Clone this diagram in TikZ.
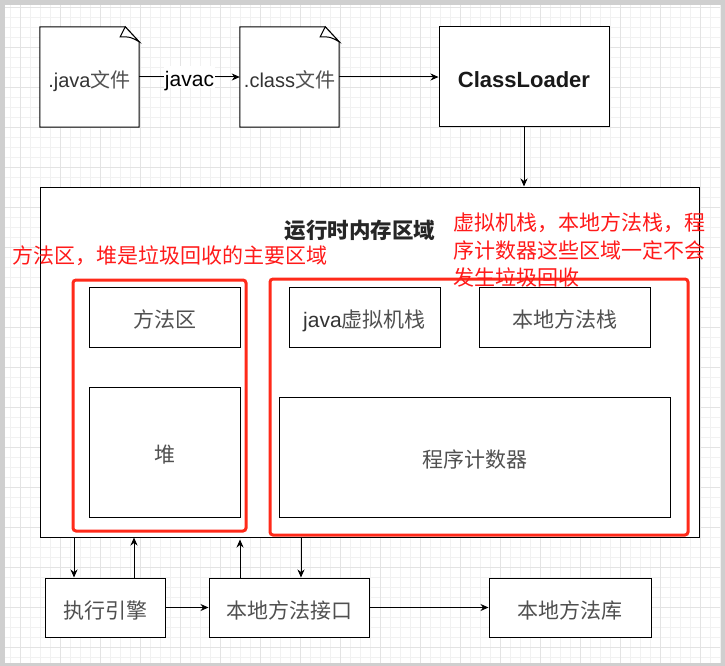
\documentclass[tikz,border=0pt]{standalone}
\usepackage{fontspec}
\setmainfont{Liberation Sans}
\newfontfamily\cjk{Noto Sans CJK SC}
\usetikzlibrary{arrows.meta,calc}
\definecolor{redc}{HTML}{FF2A1A}
\definecolor{redt}{HTML}{FF1A1A}
\definecolor{txt}{HTML}{333333}
\definecolor{cjkt}{HTML}{505050}
\definecolor{gridminor}{HTML}{F1F1F1}
\definecolor{gridmajor}{HTML}{E3E3E3}
\newcommand{\zh}[1]{{\cjk\color{cjkt}#1}}
\begin{document}
\begin{tikzpicture}[x=1pt,y=-1pt,
  box/.style={draw=black,line width=1pt,fill=white,rectangle,inner sep=0pt,
    font=\fontsize{21}{25}\selectfont,text=txt,text height=21.5pt,text depth=0pt},
  filebox/.style={draw=none,rectangle,inner sep=0pt,
    font=\fontsize{20}{24}\selectfont,text=txt,minimum width=99pt,minimum height=100pt,
    text height=21.2pt,text depth=0pt},
  redbox/.style={draw=redc,line width=3pt,rounded corners=3pt,rectangle,inner sep=0pt},
  arr/.style={-{Stealth[length=8pt,width=7pt,inset=2.5pt]},line width=1pt},
  redtxt/.style={text=redt,font=\cjk\fontsize{21}{27.5}\selectfont,inner sep=0pt,align=left}]
\useasboundingbox (0,0) rectangle (725,666);
% page and grid
\fill[gray!38] (0,0) rectangle (725,666);
\fill[white] (5,5) rectangle (720,663);
\foreach \x in {10,20,...,720} \draw[gridminor,line width=0.7pt] (\x,5) -- (\x,663);
\foreach \y in {7,17,...,657} \draw[gridminor,line width=0.7pt] (5,\y) -- (720,\y);
\foreach \x in {20,60,...,700} \draw[gridmajor,line width=0.8pt] (\x,5) -- (\x,663);
\foreach \y in {7,47,...,647} \draw[gridmajor,line width=0.8pt] (5,\y) -- (720,\y);

% top row
\node[filebox] (jf) at (89.5,77) {};
\node[filebox] (cf) at (289.5,77) {};
\foreach \n in {jf,cf}{
  \draw[line width=1pt,fill=white] (\n.south west) -- (\n.north west) -- ([xshift=-14pt]\n.north east)
    -- ([yshift=-15pt]\n.north east) -- (\n.south east) -- cycle;
  \draw[line width=1pt,fill=white] ([xshift=-14pt]\n.north east) -- ([xshift=-19pt,yshift=-10pt]\n.north east)
    .. controls ([xshift=-9pt,yshift=-10pt]\n.north east) .. ([yshift=-15pt]\n.north east) -- cycle;
}
\node[filebox] (jft) at (jf.center) {.java\zh{文件}};
\node[filebox] (cft) at (cf.center) {.class\zh{文件}};
\node[box,minimum width=170pt,minimum height=100pt,font=\bfseries\fontsize{22}{26}\selectfont,text=black!90,text height=20.8pt] (cl) at (524,77) {ClassLoader};

% runtime memory
\node[box,minimum width=659pt,minimum height=350pt] (mem) at (369.5,362) {};
\node[inner sep=0pt,font=\cjk\bfseries\fontsize{21.5}{26}\selectfont,text=black!85] (title) at (360,230) {运行时内存区域};

\node[box,minimum width=151pt,minimum height=60pt] (ma) at (164.5,317) {\zh{方法区}};
\node[box,minimum width=151pt,minimum height=130pt] (heap) at (164.5,452) {\zh{堆}};
\node[box,minimum width=151pt,minimum height=60pt] (jvms) at (364.5,317) {java\zh{虚拟机栈}};
\node[box,minimum width=171pt,minimum height=60pt] (nms) at (564.5,317) {\zh{本地方法栈}};
\node[box,minimum width=391pt,minimum height=120pt] (pc) at (474.5,457) {\zh{程序计数器}};

\node[redbox,minimum width=173pt,minimum height=251pt] (r1) at (159.5,405.5) {};
\node[redbox,minimum width=418pt,minimum height=256pt] (r2) at (479,407) {};

\node[redtxt,anchor=west] (l1) at (12,256) {方法区，堆是垃圾回收的主要区域};
\node[redtxt,anchor=west] (l2) at (453,250) {虚拟机栈，本地方法栈，程\\序计数器这些区域一定不会\\发生垃圾回收};

% bottom row
\node[box,minimum width=120pt,minimum height=59pt] (exec) at (105,607.5) {\zh{执行引擎}};
\node[box,minimum width=160pt,minimum height=59pt] (intf) at (289,607.5) {\zh{本地方法接口}};
\node[box,minimum width=162pt,minimum height=59pt] (lib) at (570,607.5) {\zh{本地方法库}};

% connectors
\draw[arr] (jf.east) -- node[fill=white,inner sep=1pt,font=\fontsize{21}{25}\selectfont,text=black,text height=20pt,text depth=0pt] (javac) {javac} (cf.west);
\draw[arr] (cf.east) -- (cl.west);
\draw[arr] (cl.south) -- (cl.south |- mem.north);
\coordinate (e1) at ([xshift=-31pt]exec.north);
\coordinate (e2) at ([xshift=29pt]exec.north);
\coordinate (i1) at ([xshift=-49pt]intf.north);
\coordinate (i2) at ([xshift=12pt]intf.north);
\draw[arr] (mem.south -| e1) -- (e1);
\draw[arr] (e2) -- (mem.south -| e2);
\draw[arr] (i1) -- ([yshift=-2pt]mem.south -| i1);
\draw[arr] (mem.south -| i2) -- (i2);
\draw[arr] (exec.east) -- (intf.west);
\draw[arr] (intf.east) -- (lib.west);
\end{tikzpicture}
\end{document}
